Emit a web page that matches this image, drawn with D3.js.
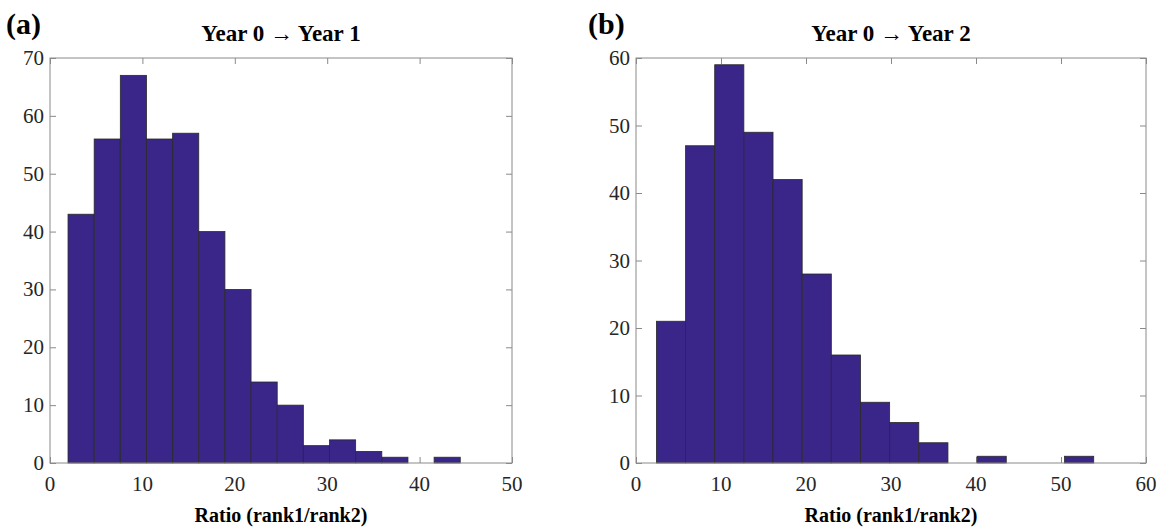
<!DOCTYPE html>
<html>
<head>
<meta charset="utf-8">
<script src="https://cdn.jsdelivr.net/npm/d3@7"></script>
<style>
  body { margin: 0; background: #fff; }
  svg { display: block; font-family: "Liberation Serif", "DejaVu Serif", serif; }
</style>
</head>
<body>
<svg width="1169" height="529"></svg>
<script>
// histogram (a): Year 0 -> Year 1
const edgesA = [1.95, 4.78, 7.61, 10.44, 13.27, 16.1, 18.93, 21.76, 24.59, 27.42, 30.25, 33.08, 35.91, 38.74, 41.57, 44.4];
const countsA = [43, 56, 67, 56, 57, 40, 30, 14, 10, 3, 4, 2, 1, 0, 1];
const xTicksA = [0, 10, 20, 30, 40, 50];
const yTicksA = [0, 10, 20, 30, 40, 50, 60, 70];

// histogram (b): Year 0 -> Year 2
const edgesB = [2.4, 5.83, 9.26, 12.69, 16.12, 19.55, 22.98, 26.41, 29.84, 33.27, 36.7, 40.13, 43.56, 46.99, 50.42, 53.85];
const countsB = [21, 47, 59, 49, 42, 28, 16, 9, 6, 3, 0, 1, 0, 0, 1];
const xTicksB = [0, 10, 20, 30, 40, 50, 60];
const yTicksB = [0, 10, 20, 30, 40, 50, 60];

const svg = d3.select("svg");
const barColor = "#3a2588";

function drawPanel(opt) {
    const { left, right, top, bottom } = opt;
    const x = d3.scaleLinear().domain(opt.xDomain).range([left, right]);
    const y = d3.scaleLinear().domain(opt.yDomain).range([bottom, top]);
    const g = svg.append("g");

    const bins = opt.counts.map((c, i) => ({ x0: opt.edges[i], x1: opt.edges[i + 1], c: c }));

    // inward ticks on all four sides (drawn under bars)
    const tick = 6;
    g.append("g").attr("transform", `translate(0,${bottom})`)
        .call(d3.axisTop(x).tickValues(opt.xTicks).tickSize(tick).tickFormat(""));
    g.append("g").attr("transform", `translate(0,${top})`)
        .call(d3.axisBottom(x).tickValues(opt.xTicks).tickSize(tick).tickFormat(""));
    g.append("g").attr("transform", `translate(${left},0)`)
        .call(d3.axisRight(y).tickValues(opt.yTicks).tickSize(tick).tickFormat(""));
    g.append("g").attr("transform", `translate(${right},0)`)
        .call(d3.axisLeft(y).tickValues(opt.yTicks).tickSize(tick).tickFormat(""));
    g.selectAll(".domain").remove();
    g.selectAll(".tick line").attr("stroke", "#8a8a8a");

    g.selectAll("rect.bar")
        .data(bins)
        .enter().append("rect")
        .attr("class", "bar")
        .attr("x", d => x(d.x0))
        .attr("y", d => y(d.c))
        .attr("width", d => x(d.x1) - x(d.x0))
        .attr("height", d => y(0) - y(d.c))
        .attr("fill", barColor)
        .attr("stroke", "#2a2a2a")
        .attr("stroke-width", 0.8);

    // box
    g.append("rect")
        .attr("x", left).attr("y", top)
        .attr("width", right - left).attr("height", bottom - top)
        .attr("fill", "none")
        .attr("stroke", "#8a8a8a")
        .attr("stroke-width", 1);

    // tick labels
    g.selectAll("text.xl")
        .data(opt.xTicks)
        .enter().append("text")
        .attr("x", d => x(d))
        .attr("y", bottom + 28)
        .attr("text-anchor", "middle")
        .style("font-size", "21px")
        .attr("fill", "#262626")
        .text(d => d);

    g.selectAll("text.yl")
        .data(opt.yTicks)
        .enter().append("text")
        .attr("x", left - 6)
        .attr("y", d => y(d) + 7)
        .attr("text-anchor", "end")
        .style("font-size", "21px")
        .attr("fill", "#262626")
        .text(d => d);

    g.append("text")
        .attr("x", (left + right) / 2)
        .attr("y", 41)
        .attr("text-anchor", "middle")
        .style("font-size", "23px")
        .style("font-weight", "bold")
        .text(opt.title);

    g.append("text")
        .attr("x", (left + right) / 2)
        .attr("y", 522)
        .attr("text-anchor", "middle")
        .style("font-size", "20px")
        .style("font-weight", "bold")
        .text("Ratio (rank1/rank2)");

    g.append("text")
        .attr("x", opt.tagX)
        .attr("y", 34)
        .style("font-size", "30px")
        .style("font-weight", "bold")
        .text(opt.tag);
}

drawPanel({
    left: 50, right: 512, top: 58, bottom: 463,
    xDomain: [0, 50], yDomain: [0, 70],
    edges: edgesA, counts: countsA, xTicks: xTicksA, yTicks: yTicksA,
    title: "Year 0 \u2192 Year 1", tag: "(a)", tagX: 6
});

drawPanel({
    left: 636, right: 1146, top: 58, bottom: 463,
    xDomain: [0, 60], yDomain: [0, 60],
    edges: edgesB, counts: countsB, xTicks: xTicksB, yTicks: yTicksB,
    title: "Year 0 \u2192 Year 2", tag: "(b)", tagX: 588
});
</script>
</body>
</html>
